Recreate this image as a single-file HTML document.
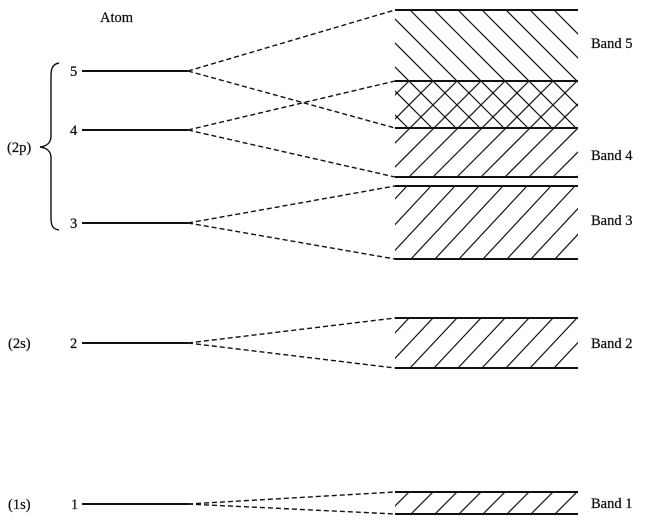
<!DOCTYPE html>
<html>
<head>
<meta charset="utf-8">
<style>
html,body{margin:0;padding:0;background:#fff;}
svg{display:block;}
text{font-family:"Liberation Serif",serif;font-size:14.5px;fill:#111;stroke:#111;stroke-width:0.25;}
</style>
</head>
<body>
<svg width="650" height="524" viewBox="0 0 650 524" xmlns="http://www.w3.org/2000/svg">
<defs>
<clipPath id="c5"><rect x="395" y="10" width="183" height="118"/></clipPath>
<clipPath id="c4"><rect x="395" y="81" width="183" height="96"/></clipPath>
<clipPath id="c3"><rect x="395" y="186" width="183" height="73"/></clipPath>
<clipPath id="c2"><rect x="395" y="318" width="183" height="50"/></clipPath>
<clipPath id="c1"><rect x="395" y="492" width="183" height="22"/></clipPath>
</defs>

<!-- labels -->
<text x="100" y="22">Atom</text>
<text x="7" y="152">(2p)</text>
<text x="8" y="348">(2s)</text>
<text x="8" y="509">(1s)</text>
<text x="70" y="76">5</text>
<text x="70" y="135">4</text>
<text x="70" y="228">3</text>
<text x="70" y="348">2</text>
<text x="71" y="509">1</text>

<text x="591" y="48">Band 5</text>
<text x="591" y="160">Band 4</text>
<text x="591" y="225">Band 3</text>
<text x="591" y="348">Band 2</text>
<text x="591" y="508">Band 1</text>

<!-- brace -->
<path d="M59,63 C53,64 51,68 51,76 L51,136 C51,143 47,146 40,147 C47,148 51,151 51,158 L51,218 C51,226 53,229 59,230" fill="none" stroke="#111" stroke-width="1.4"/>

<!-- atom levels -->
<g stroke="#111" stroke-width="2">
<line x1="82" y1="71" x2="188" y2="71"/>
<line x1="82" y1="130" x2="188" y2="130"/>
<line x1="82" y1="223" x2="188" y2="223"/>
<line x1="82" y1="343" x2="188" y2="343"/>
<line x1="82" y1="504" x2="188" y2="504"/>
</g>

<!-- dashed connectors -->
<g stroke="#111" stroke-width="1.4" stroke-dasharray="5 3" fill="none">
<line x1="188" y1="71" x2="395" y2="10"/>
<line x1="188" y1="71" x2="395" y2="128"/>
<line x1="188" y1="130" x2="395" y2="81"/>
<line x1="188" y1="130" x2="395" y2="177"/>
<line x1="188" y1="223" x2="395" y2="186"/>
<line x1="188" y1="223" x2="395" y2="259"/>
<line x1="188" y1="343" x2="395" y2="318"/>
<line x1="188" y1="343" x2="395" y2="368"/>
<line x1="188" y1="504" x2="395" y2="492"/>
<line x1="188" y1="504" x2="395" y2="514"/>
</g>

<!-- hatch band 5 (\) -->
<g stroke="#111" stroke-width="1.2" clip-path="url(#c5)">
<line x1="290" y1="10" x2="408" y2="128"/>
<line x1="314" y1="10" x2="432" y2="128"/>
<line x1="338" y1="10" x2="456" y2="128"/>
<line x1="362" y1="10" x2="480" y2="128"/>
<line x1="386" y1="10" x2="504" y2="128"/>
<line x1="410" y1="10" x2="528" y2="128"/>
<line x1="434" y1="10" x2="552" y2="128"/>
<line x1="458" y1="10" x2="576" y2="128"/>
<line x1="482" y1="10" x2="600" y2="128"/>
<line x1="506" y1="10" x2="624" y2="128"/>
<line x1="530" y1="10" x2="648" y2="128"/>
<line x1="554" y1="10" x2="672" y2="128"/>
<line x1="578" y1="10" x2="696" y2="128"/>
</g>

<!-- hatch band 4 (/) -->
<g stroke="#111" stroke-width="1.2" clip-path="url(#c4)">
<line x1="409" y1="81" x2="313" y2="177"/>
<line x1="433" y1="81" x2="337" y2="177"/>
<line x1="457" y1="81" x2="361" y2="177"/>
<line x1="481" y1="81" x2="385" y2="177"/>
<line x1="505" y1="81" x2="409" y2="177"/>
<line x1="529" y1="81" x2="433" y2="177"/>
<line x1="553" y1="81" x2="457" y2="177"/>
<line x1="577" y1="81" x2="481" y2="177"/>
<line x1="601" y1="81" x2="505" y2="177"/>
<line x1="625" y1="81" x2="529" y2="177"/>
<line x1="649" y1="81" x2="553" y2="177"/>
<line x1="673" y1="81" x2="577" y2="177"/>
</g>

<!-- hatch band 3 -->
<g stroke="#111" stroke-width="1.2" clip-path="url(#c3)">
<line x1="407" y1="186" x2="339" y2="259"/>
<line x1="431" y1="186" x2="363" y2="259"/>
<line x1="455" y1="186" x2="387" y2="259"/>
<line x1="479" y1="186" x2="411" y2="259"/>
<line x1="503" y1="186" x2="435" y2="259"/>
<line x1="527" y1="186" x2="459" y2="259"/>
<line x1="551" y1="186" x2="483" y2="259"/>
<line x1="575" y1="186" x2="507" y2="259"/>
<line x1="599" y1="186" x2="531" y2="259"/>
<line x1="623" y1="186" x2="555" y2="259"/>
<line x1="647" y1="186" x2="579" y2="259"/>
</g>

<!-- hatch band 2 -->
<g stroke="#111" stroke-width="1.2" clip-path="url(#c2)">
<line x1="409" y1="318" x2="362" y2="368"/>
<line x1="433" y1="318" x2="386" y2="368"/>
<line x1="457" y1="318" x2="410" y2="368"/>
<line x1="481" y1="318" x2="434" y2="368"/>
<line x1="505" y1="318" x2="458" y2="368"/>
<line x1="529" y1="318" x2="482" y2="368"/>
<line x1="553" y1="318" x2="506" y2="368"/>
<line x1="577" y1="318" x2="530" y2="368"/>
<line x1="601" y1="318" x2="554" y2="368"/>
<line x1="625" y1="318" x2="578" y2="368"/>
</g>

<!-- hatch band 1 -->
<g stroke="#111" stroke-width="1.2" clip-path="url(#c1)">
<line x1="409" y1="492" x2="387" y2="514"/>
<line x1="433" y1="492" x2="411" y2="514"/>
<line x1="457" y1="492" x2="435" y2="514"/>
<line x1="481" y1="492" x2="459" y2="514"/>
<line x1="505" y1="492" x2="483" y2="514"/>
<line x1="529" y1="492" x2="507" y2="514"/>
<line x1="553" y1="492" x2="531" y2="514"/>
<line x1="577" y1="492" x2="555" y2="514"/>
<line x1="601" y1="492" x2="579" y2="514"/>
</g>

<!-- band edges -->
<g stroke="#111" stroke-width="2">
<line x1="395" y1="10" x2="578" y2="10"/>
<line x1="395" y1="81" x2="578" y2="81"/>
<line x1="395" y1="128" x2="578" y2="128"/>
<line x1="395" y1="177" x2="578" y2="177"/>
<line x1="395" y1="186" x2="578" y2="186"/>
<line x1="395" y1="259" x2="578" y2="259"/>
<line x1="395" y1="318" x2="578" y2="318"/>
<line x1="395" y1="368" x2="578" y2="368"/>
<line x1="395" y1="492" x2="578" y2="492"/>
<line x1="395" y1="514" x2="578" y2="514"/>
</g>
</svg>
</body>
</html>
